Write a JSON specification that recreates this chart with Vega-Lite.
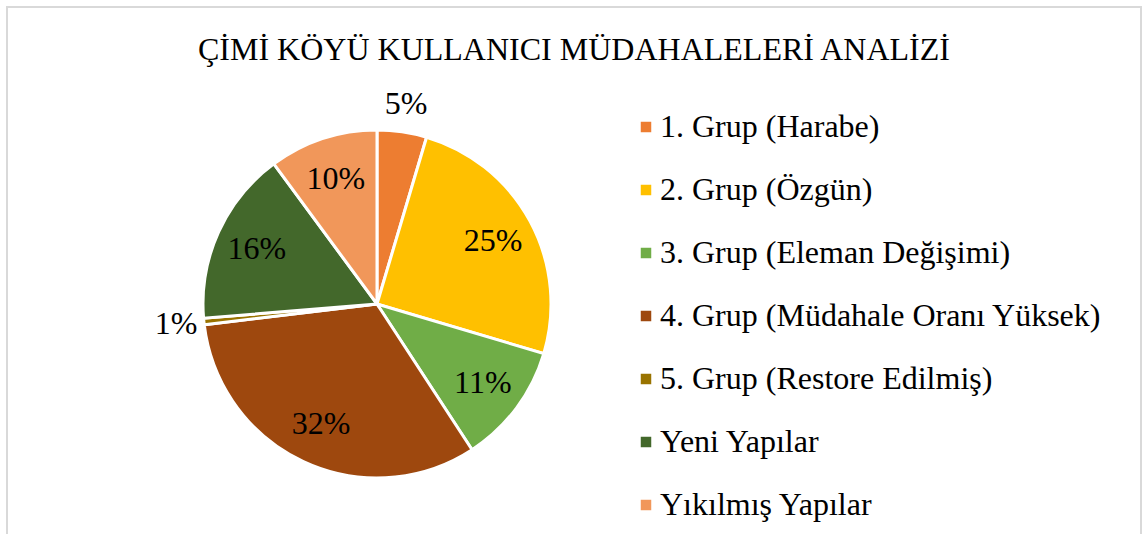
{
  "$schema": "https://vega.github.io/schema/vega-lite/v6.json",
  "autosize": {"type": "none"},
  "width": 1134,
  "height": 540,
  "padding": {"left": 7, "top": 7, "right": 3, "bottom": 0},
  "background": "white",
  "view": {"stroke": "#d9d9d9", "strokeWidth": 2},
  "config": {
    "view": {"stroke": "#d9d9d9", "strokeWidth": 2},
    "font": "Liberation Serif"
  },
  "title": {
    "text": "ÇİMİ KÖYÜ KULLANICI MÜDAHALELERİ ANALİZİ",
    "font": "Liberation Serif",
    "fontSize": 32,
    "fontWeight": "normal",
    "color": "#000000",
    "anchor": "start",
    "dx": 191,
    "dy": 60,
    "offset": 0
  },
  "data": {
    "values": [
      {"grup": "1. Grup (Harabe)", "oran": 4.6, "etiket": "5%", "sira": 1},
      {"grup": "2. Grup (Özgün)", "oran": 25.0, "etiket": "25%", "sira": 2},
      {"grup": "3. Grup (Eleman Değişimi)", "oran": 11.2, "etiket": "11%", "sira": 3},
      {"grup": "4. Grup (Müdahale Oranı Yüksek)", "oran": 32.3, "etiket": "32%", "sira": 4},
      {"grup": "5. Grup (Restore Edilmiş)", "oran": 0.6, "etiket": "1%", "sira": 5},
      {"grup": "Yeni Yapılar", "oran": 16.2, "etiket": "16%", "sira": 6},
      {"grup": "Yıkılmış Yapılar", "oran": 10.1, "etiket": "10%", "sira": 7}
    ]
  },
  "encoding": {
    "theta": {"field": "oran", "type": "quantitative", "stack": true},
    "order": {"field": "sira", "type": "quantitative"},
    "color": {
      "field": "grup",
      "type": "nominal",
      "scale": {
        "domain": ["1. Grup (Harabe)", "2. Grup (Özgün)", "3. Grup (Eleman Değişimi)", "4. Grup (Müdahale Oranı Yüksek)", "5. Grup (Restore Edilmiş)", "Yeni Yapılar", "Yıkılmış Yapılar"],
        "range": ["#ED7D31", "#FFC000", "#70AD47", "#9E480E", "#997300", "#43682B", "#F1975A"]
      },
      "legend": {
        "title": null,
        "orient": "none",
        "legendX": 623,
        "legendY": 104,
        "symbolType": "square",
        "symbolSize": 110,
        "symbolStrokeWidth": 0,
        "labelFont": "Liberation Serif",
        "labelFontSize": 32,
        "labelColor": "#000000",
        "labelOffset": -2,
        "labelLimit": 700,
        "rowPadding": 31
      }
    }
  },
  "layer": [
    {
      "mark": {"type": "arc", "x": 370, "y": 297, "outerRadius": 174, "stroke": "white", "strokeWidth": 3}
    },
    {
      "mark": {"type": "text", "x": 370, "y": 297, "radius": 202, "fontSize": 32, "font": "Liberation Serif", "color": "#000000"},
      "encoding": {
        "text": {"condition": {"test": "datum.oran < 5", "field": "etiket"}, "value": ""},
        "color": {"value": "#000000"}
      }
    },
    {
      "mark": {"type": "text", "x": 370, "y": 297, "radius": 132, "fontSize": 32, "font": "Liberation Serif", "color": "#000000"},
      "encoding": {
        "text": {"condition": {"test": "datum.oran >= 5", "field": "etiket"}, "value": ""},
        "color": {"value": "#000000"}
      }
    }
  ]
}
